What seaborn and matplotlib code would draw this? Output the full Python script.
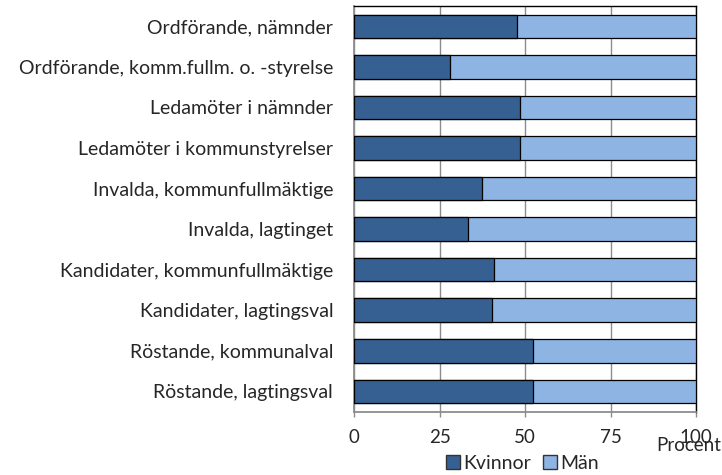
import matplotlib.pyplot as plt
import pandas as pd
import seaborn as sns
from matplotlib.patches import Patch

categories = [
    "Ordförande, nämnder",
    "Ordförande, komm.fullm. o. -styrelse",
    "Ledamöter i nämnder",
    "Ledamöter i kommunstyrelser",
    "Invalda, kommunfullmäktige",
    "Invalda, lagtinget",
    "Kandidater, kommunfullmäktige",
    "Kandidater, lagtingsval",
    "Röstande, kommunalval",
    "Röstande, lagtingsval",
]
kvinnor = [47.5, 28.1, 48.4, 48.6, 37.5, 33.2, 40.8, 40.2, 52.4, 52.2]
man = [52.5, 71.9, 51.6, 51.4, 62.5, 66.8, 59.2, 59.8, 47.6, 47.8]
xticks = [0, 25, 50, 75, 100]

DARK = "#366092"
LIGHT = "#8DB4E2"

sns.set_style("white")
plt.rcParams["font.family"] = ["Lato", "DejaVu Sans"]

df = pd.DataFrame({"kategori": categories, "Kvinnor": kvinnor, "Män": man})
df["total"] = df["Kvinnor"] + df["Män"]

fig = plt.figure(figsize=(7.22, 4.75), dpi=100)
ax = fig.add_axes([0.4903, 0.1333, 0.9644 - 0.4903, 0.9874 - 0.1333])

# stacked bars: full length in light blue, women on top in dark blue
sns.barplot(data=df, x="total", y="kategori", color=LIGHT, saturation=1,
            width=0.58, edgecolor="black", linewidth=0.9, ax=ax, zorder=3)
sns.barplot(data=df, x="Kvinnor", y="kategori", color=DARK, saturation=1,
            width=0.58, edgecolor="black", linewidth=0.9, ax=ax, zorder=3)

ax.set_xlim(0, 100)
ax.set_ylim(9.5, -0.5)
ax.set_xticks(xticks)
ax.set_xticklabels([str(t) for t in xticks])
ax.set_xlabel("")
ax.set_ylabel("")

ax.xaxis.grid(True, color="#8c8c8c", linewidth=1)
ax.set_axisbelow(True)
ax.tick_params(axis="x", direction="out", length=3.5, width=1, color="#8c8c8c",
               pad=9, labelsize=13.5, bottom=True)
ax.tick_params(axis="y", length=0, pad=15, labelsize=14)

for side in ["left", "bottom"]:
    ax.spines[side].set_color("#8c8c8c")
    ax.spines[side].set_linewidth(1.3)
for side in ["top", "right"]:
    ax.spines[side].set_color("black")
    ax.spines[side].set_linewidth(1)

fig.text(0.999, 0.062, "Procent", ha="right", va="center", fontsize=13.5)

handles = [Patch(facecolor=DARK, edgecolor="#333333", label="Kvinnor"),
           Patch(facecolor=LIGHT, edgecolor="#333333", label="Män")]
fig.legend(handles=handles, loc="center", bbox_to_anchor=(0.724, 0.025), ncol=2,
           frameon=False, fontsize=14, handlelength=0.7, handleheight=0.7,
           handletextpad=0.2, columnspacing=0.6, borderpad=0)

fig.savefig("out.png", dpi=100)
plt.close()
